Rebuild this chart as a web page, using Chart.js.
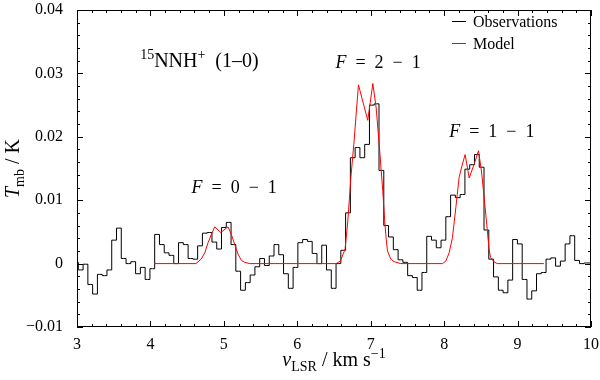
<!DOCTYPE html>
<html>
<head>
<meta charset="utf-8">
<script src="https://cdn.jsdelivr.net/npm/chart.js@4.4.1/dist/chart.umd.min.js"></script>
<style>
  html, body { margin: 0; padding: 0; background: #fff; }
  #wrap { width: 600px; height: 380px; }
</style>
</head>
<body>
<div id="wrap"><canvas id="c" width="600" height="380"></canvas></div>
<script>
// spectrum channel grid (km/s)
const chanStart = 2.9855;
const chanWidth = 0.065;

// observed T_mb per channel (K)
const obsT = [
  0.0002, -0.0010, -0.0001, -0.0033, -0.0048, -0.0017, -0.0019, -0.0010, 0.0037, 0.0056,
  0.0008, 0.0000, 0.0003, -0.0016, -0.0006, -0.0025, -0.0008, 0.0046, 0.0030, 0.0017,
  0.0013, 0.0000, 0.0033, 0.0030, 0.0008, 0.0007, 0.0028, 0.0048, 0.0049, 0.0034,
  0.0023, 0.0057, 0.0065, 0.0030, -0.0012, -0.0042, -0.0030, -0.0018, -0.0005, 0.0008,
  -0.0003, 0.0012, 0.0030, 0.0014, -0.0016, -0.0039, -0.0006, 0.0033, 0.0038, 0.0035,
  0.0016, 0.0000, 0.0029, -0.0010, -0.0039, 0.0000, 0.0021, 0.0080, 0.0167, 0.0183,
  0.0167, 0.0188, 0.0250, 0.0252, 0.0147, 0.0060, 0.0042, 0.0022, 0.0006, 0.0002,
  -0.0019, -0.0022, -0.0042, -0.0014, 0.0043, 0.0037, 0.0025, 0.0037, 0.0074, 0.0108,
  0.0104, 0.0109, 0.0149, 0.0156, 0.0172, 0.0152, 0.0053, 0.0007, -0.0021, -0.0042,
  -0.0046, -0.0026, 0.0038, 0.0031, -0.0025, -0.0056, -0.0043, -0.0016, -0.0014, 0.0007,
  0.0009, -0.0004, 0.0004, 0.0031, 0.0044, 0.0005, 0.0000, 0.0001, 0.0001
];

// model spectrum
const modelV = [
  4.05, 4.62, 4.69, 4.74, 4.785, 4.83, 4.876, 4.958, 5.057, 5.102, 5.148, 5.193, 5.239, 5.284, 5.353,
  6.53, 6.587, 6.651, 6.688, 6.733, 6.77, 6.833, 6.96, 7.029, 7.074, 7.119, 7.164, 7.19, 7.21, 7.228, 7.274, 7.319, 7.41,
  7.977, 8.023, 8.068, 8.113, 8.159, 8.204, 8.249, 8.286, 8.341, 8.409, 8.468, 8.508, 8.545, 8.586, 8.609, 8.631, 8.677, 8.722,
  9.358
];
const modelT = [
  0, 0, 0.0007, 0.0017, 0.0033, 0.0046, 0.0058, 0.0049, 0.0058, 0.0046, 0.0030, 0.0015, 0.0005, 0.0002, 0,
  0, 0.0004, 0.0023, 0.0067, 0.0140, 0.0188, 0.0282, 0.0226, 0.0284, 0.0246, 0.0183, 0.0115, 0.0068, 0.0040, 0.0020, 0.0007, 0.0003, 0,
  0, 0.0004, 0.0017, 0.0041, 0.0088, 0.0136, 0.0157, 0.0172, 0.0135, 0.0157, 0.0178, 0.0146, 0.0104, 0.0055, 0.0025, 0.0010, 0.0003, 0,
  0
];

const xTicks = [3, 4, 5, 6, 7, 8, 9, 10];
const yTicks = [-0.01, 0, 0.01, 0.02, 0.03, 0.04];
const xMinor = 0.2;
const yMinor = 0.002;

const SERIF = '"Liberation Serif", "DejaVu Serif", serif';
const EN = '\u2002';

Chart.defaults.font.family = SERIF;
Chart.defaults.color = '#000';

// draw a run of text pieces: [text, kind] with kind '', 'i', 'sub', 'sup'
function richText(ctx, parts, x, y, size, align) {
  const fontFor = k => {
    const s = (k === 'sub' || k === 'sup') ? size * 0.7 : size;
    return (k === 'i' ? 'italic ' : '') + s + 'px ' + SERIF;
  };
  let total = 0;
  parts.forEach(([t, k]) => { ctx.font = fontFor(k); total += ctx.measureText(t).width; });
  let cx = align === 'center' ? x - total / 2 : x;
  ctx.textAlign = 'left';
  ctx.textBaseline = 'alphabetic';
  parts.forEach(([t, k]) => {
    ctx.font = fontFor(k);
    const dy = k === 'sub' ? size * 0.25 : k === 'sup' ? -size * 0.4 : 0;
    ctx.fillText(t, cx, y + dy);
    cx += ctx.measureText(t).width;
  });
}

const decor = {
  id: 'decor',
  afterDatasetsDraw(chart) {
    const { ctx, chartArea: a, scales: { x, y } } = chart;
    ctx.save();
    ctx.strokeStyle = '#000';
    ctx.lineWidth = 1;
    ctx.strokeRect(a.left + 0.5, a.top + 0.5, a.right - a.left - 1, a.bottom - a.top - 1);

    // inward ticks on all four sides
    ctx.beginPath();
    const nx = Math.round((xTicks[xTicks.length - 1] - xTicks[0]) / xMinor);
    for (let i = 0; i <= nx; i++) {
      const px = Math.round(x.getPixelForValue(xTicks[0] + i * xMinor)) + 0.5;
      const len = i % 5 ? 3 : 6;
      ctx.moveTo(px, a.bottom); ctx.lineTo(px, a.bottom - len);
      ctx.moveTo(px, a.top); ctx.lineTo(px, a.top + len);
    }
    const ny = Math.round((yTicks[yTicks.length - 1] - yTicks[0]) / yMinor);
    for (let j = 0; j <= ny; j++) {
      const py = Math.round(y.getPixelForValue(yTicks[0] + j * yMinor)) + 0.5;
      const len = j % 5 ? 3 : 6;
      ctx.moveTo(a.left, py); ctx.lineTo(a.left + len, py);
      ctx.moveTo(a.right, py); ctx.lineTo(a.right - len, py);
    }
    ctx.stroke();

    ctx.fillStyle = '#000';
    // annotations
    richText(ctx, [['15', 'sup'], ['NNH', ''], ['+', 'sup'], [EN + '(1\u20130)', '']],
      x.getPixelForValue(3.86), y.getPixelForValue(0.031), 20, 'left');
    const fLabel = (v0, v1) => [['F', 'i'], [EN + '=' + EN + v0 + EN + '\u2212' + EN + v1, '']];
    richText(ctx, fLabel(2, 1), x.getPixelForValue(7.10), y.getPixelForValue(0.0309), 18, 'center');
    richText(ctx, fLabel(0, 1), x.getPixelForValue(5.14), y.getPixelForValue(0.0112), 18, 'center');
    richText(ctx, fLabel(1, 1), x.getPixelForValue(8.65), y.getPixelForValue(0.0200), 18, 'center');

    // legend
    ctx.lineWidth = 1;
    ctx.strokeStyle = '#000';
    ctx.beginPath(); ctx.moveTo(452, 21.5); ctx.lineTo(466, 21.5); ctx.stroke();
    ctx.strokeStyle = '#ff0000';
    ctx.beginPath(); ctx.moveTo(452, 43.5); ctx.lineTo(466, 43.5); ctx.stroke();
    richText(ctx, [['Observations', '']], 473, 27, 16, 'left');
    richText(ctx, [['Model', '']], 473, 49, 16, 'left');

    // axis titles
    richText(ctx, [['v', 'i'], ['LSR', 'sub'], [' / km s', ''], ['\u22121', 'sup']],
      (a.left + a.right) / 2, 366, 20, 'center');
    ctx.save();
    ctx.translate(19, (a.top + a.bottom) / 2);
    ctx.rotate(-Math.PI / 2);
    richText(ctx, [['T', 'i'], ['mb', 'sub'], [' / K', '']], 0, 0, 20, 'center');
    ctx.restore();
    ctx.restore();
  }
};

const fmtY = v => (v === 0 ? '0' : (v < 0 ? '\u2212' : '') + Math.abs(v).toFixed(2));

const noPad = s => { s.paddingTop = 0; s.paddingBottom = 0; s.paddingLeft = 0; s.paddingRight = 0; };

new Chart(document.getElementById('c').getContext('2d'), {
  type: 'line',
  data: {
    datasets: [
      {
        label: 'Model',
        data: modelV.map((v, i) => ({ x: v, y: modelT[i] })),
        borderColor: '#ff0000',
        borderWidth: 1,
        pointRadius: 0,
        tension: 0,
        order: 0,
      },
      {
        label: 'Observations',
        data: obsT.map((t, i) => ({ x: chanStart + i * chanWidth, y: t })),
        borderColor: '#000',
        borderWidth: 1,
        pointRadius: 0,
        stepped: 'middle',
        order: 1,
      },
    ],
  },
  options: {
    responsive: false,
    animation: false,
    devicePixelRatio: 1,
    layout: { padding: { top: 10, right: 9, left: 0, bottom: 0 } },
    plugins: { legend: { display: false }, tooltip: { enabled: false } },
    scales: {
      x: {
        type: 'linear',
        min: 3,
        max: 10,
        grid: { display: false, drawTicks: false },
        border: { display: false },
        afterBuildTicks: s => { s.ticks = xTicks.map(v => ({ value: v })); },
        afterFit: s => { s.height = 53; noPad(s); },
        ticks: { color: '#000', padding: 8, maxRotation: 0, font: { family: SERIF, size: 16 } },
      },
      y: {
        min: -0.01,
        max: 0.04,
        grid: { display: false, drawTicks: false },
        border: { display: false },
        afterBuildTicks: s => { s.ticks = yTicks.map(v => ({ value: v })); },
        afterFit: s => { s.width = 77; noPad(s); },
        ticks: { color: '#000', padding: 14, font: { family: SERIF, size: 16 }, callback: fmtY },
      },
    },
  },
  plugins: [decor],
});
</script>
</body>
</html>
